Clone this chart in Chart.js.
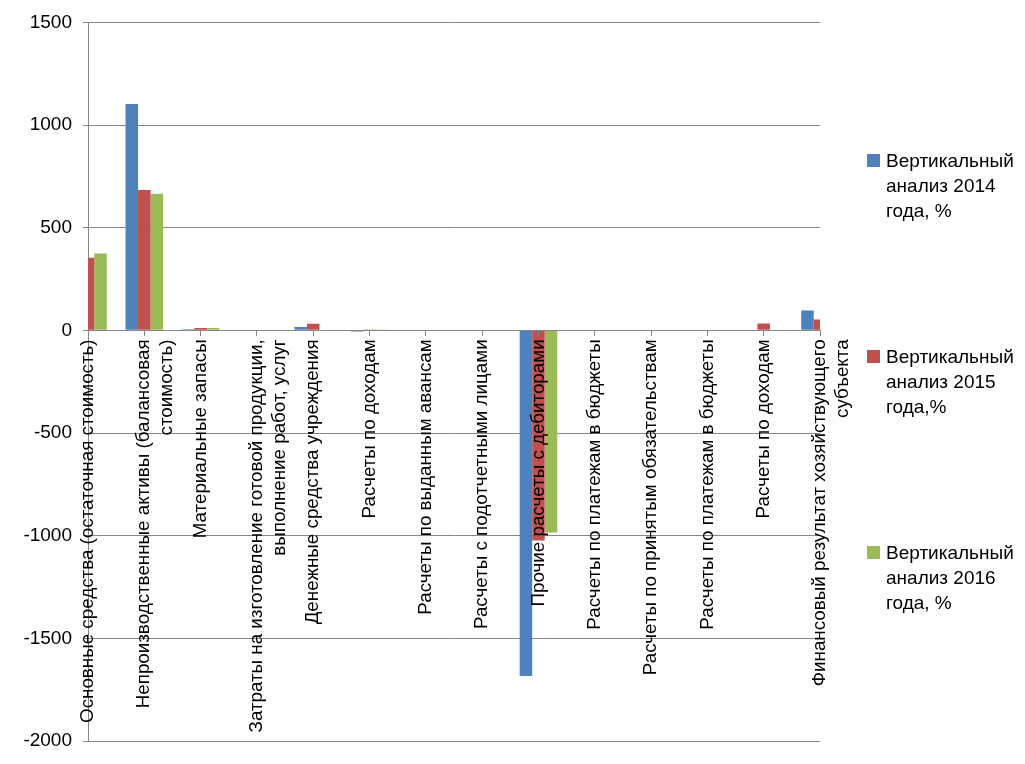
<!DOCTYPE html>
<html>
  <head>
    <title>Вертикальный анализ</title>
    <script src="https://cdn.jsdelivr.net/npm/chart.js"></script>
    <style>
      body {
        margin: 0;
        background: #ffffff;
        font-family: "Liberation Sans", Arial, sans-serif;
      }

      #wrap {
        position: relative;
        width: 1025px;
        height: 764px;
      }

      #legend {
        position: absolute;
        left: 867px;
        top: 0;
      }

      .item {
        position: absolute;
        left: 0;
        width: 160px;
        font-size: 19px;
        line-height: 25px;
        color: #000;
        padding-left: 19px;
      }

      .item span {
        position: absolute;
        left: 0;
        top: 6px;
        width: 13px;
        height: 13px;
      }
    </style>
  </head>
  <body>
    <div id="wrap">
      <canvas id="barChart"></canvas>
      <div id="legend"></div>
    </div>

    <script>
      // categories (rows of the table)
      const categories = [
        "Основные средства (остаточная стоимость)",
        ["Непроизводственные активы (балансовая", "стоимость)"],
        "Материальные запасы",
        ["Затраты на изготовление готовой продукции,", "выполнение работ, услуг"],
        "Денежные средства учреждения",
        "Расчеты по доходам",
        "Расчеты по выданным авансам",
        "Расчеты с подотчетными лицами",
        "Прочие расчеты с дебиторами",
        "Расчеты по платежам в бюджеты",
        "Расчеты по принятым обязательствам",
        "Расчеты по платежам в бюджеты",
        "Расчеты по доходам",
        ["Финансовый результат хозяйствующего", "субъекта"],
      ];

      const seriesNames = [
        ["Вертикальный", "анализ 2014", "года, %"],
        ["Вертикальный", "анализ 2015", "года,%"],
        ["Вертикальный", "анализ 2016", "года, %"],
      ];

      // values
      const values2014 = [0, 1102, 6, 0, 16, -5, 3, 3, -1684, 0, 3, 0, 0, 97];
      const values2015 = [354, 684, 12, 0, 32, 4, 3, 3, -1024, 3, 3, 0, 34, 53];
      const values2016 = [374, 665, 12, 0, 3, 4, 3, 3, -985, 3, 3, 0, 3, 0];

      const yMin = -2000;
      const yMax = 1500;
      const yStep = 500;

      const colors = ["#4F81BD", "#C0504D", "#9BBB59"];
      const gridColor = "#868686";

      // Function to draw the bar chart
      function drawBarChart() {
        const ctx = document.getElementById("barChart").getContext("2d");
        const allValues = [values2014, values2015, values2016];

        return new Chart(ctx, {
          type: "bar",
          data: {
            labels: categories,
            datasets: allValues.map((vals, i) => ({
              label: seriesNames[i].join(" "),
              data: vals,
              backgroundColor: colors[i],
              borderWidth: 0,
              categoryPercentage: 0.667,
              barPercentage: 1.0,
            })),
          },
          options: {
            responsive: true,
            maintainAspectRatio: false,
            animation: false,
            layout: {
              padding: { top: 20, right: 205, bottom: 23, left: 0 },
            },
            plugins: {
              legend: { display: false },
              tooltip: { enabled: false },
            },
            scales: {
              x: {
                position: { y: 0 },
                offset: false,
                grid: {
                  offset: false,
                  drawOnChartArea: false,
                  drawTicks: true,
                  tickLength: 5,
                  color: gridColor,
                  z: 1,
                },
                border: { color: gridColor, z: 1 },
                ticks: {
                  z: 1, // labels sit on top of the bars
                  autoSkip: false,
                  minRotation: 90,
                  maxRotation: 90,
                  padding: 4,
                  color: "#000",
                  font: { family: "Liberation Sans", size: 18.8 },
                },
              },
              y: {
                min: yMin,
                max: yMax,
                ticks: {
                  stepSize: yStep,
                  padding: 11,
                  color: "#000",
                  font: { family: "Liberation Sans", size: 19 },
                  callback: (v) => String(v),
                },
                grid: {
                  color: gridColor,
                  tickLength: 5,
                },
                border: { color: gridColor },
                afterFit: (scale) => {
                  scale.width = 88;
                },
              },
            },
          },
        });
      }

      // Function to build the legend beside the chart
      function drawLegend() {
        const legend = document.getElementById("legend");
        const tops = [148, 344, 540];
        seriesNames.forEach((lines, i) => {
          const item = document.createElement("div");
          item.className = "item";
          item.style.top = tops[i] + "px";
          item.innerHTML =
            `<span style="background:${colors[i]}"></span>` + lines.join("<br>");
          legend.appendChild(item);
        });
      }

      drawBarChart();
      drawLegend();
    </script>
  </body>
</html>
